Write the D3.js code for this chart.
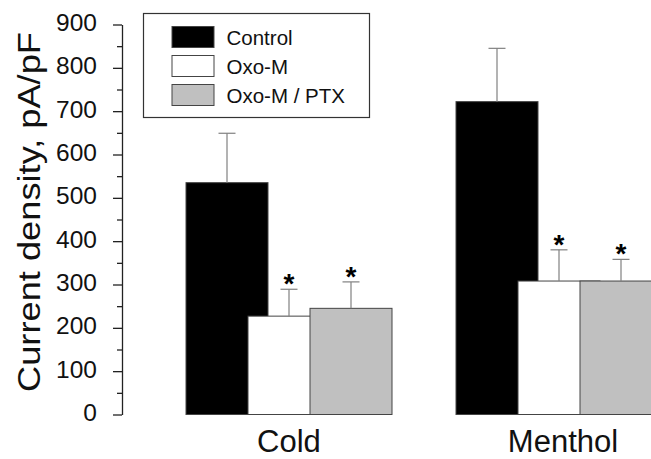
<!DOCTYPE html>
<html>
<head>
<meta charset="utf-8">
<script src="https://cdn.jsdelivr.net/npm/d3@7"></script>
<style>
  body { margin: 0; background: #fff; }
  svg { display: block; font-family: "Liberation Sans", Arial, sans-serif; }
</style>
</head>
<body>
<svg id="chart" width="651" height="459"></svg>
<script>
// data
const categories = ['Cold', 'Menthol'];
const series = ['Control', 'Oxo-M', 'Oxo-M / PTX'];
const means = [
  [535, 227, 245],   // Cold
  [722, 308, 308]    // Menthol
];
const errors = [
  [114, 62, 61],
  [123, 72, 50]
];
const significant = [
  [false, true, true],
  [false, true, true]
];
const majorTicks = [0, 100, 200, 300, 400, 500, 600, 700, 800, 900];
const minorTicks = [50, 150, 250, 350, 450, 550, 650, 750, 850];

const fills = ['#000000', '#ffffff', '#c0c0c0'];

const svg = d3.select('#chart');

const y = d3.scaleLinear().domain([0, 900]).range([414.5, 24.5]);

// group centres and series offsets (bars overlap in the original)
const x0 = d3.scalePoint().domain(categories).range([289, 559]);
const x1 = d3.scalePoint().domain(series).range([-62, 62]);
const barW = 82;

// flatten
const rows = [];
categories.forEach((c, i) => {
  series.forEach((s, j) => {
    rows.push({ cat: c, ser: s, j, value: means[i][j], err: errors[i][j], sig: significant[i][j] });
  });
});

// bars
svg.append('g')
  .selectAll('rect')
  .data(rows)
  .enter()
  .append('rect')
  .attr('x', d => x0(d.cat) + x1(d.ser) - barW / 2)
  .attr('y', d => y(d.value))
  .attr('width', barW)
  .attr('height', d => y(0) - y(d.value))
  .attr('fill', d => fills[d.j])
  .attr('stroke', '#444')
  .attr('stroke-width', 1);

// error bars
const eb = svg.append('g').attr('stroke', '#808080').attr('stroke-width', 1.2);
eb.selectAll('line.v')
  .data(rows)
  .enter()
  .append('line')
  .attr('class', 'v')
  .attr('x1', d => x0(d.cat) + x1(d.ser))
  .attr('x2', d => x0(d.cat) + x1(d.ser))
  .attr('y1', d => y(d.value))
  .attr('y2', d => y(d.value + d.err));
eb.selectAll('line.cap')
  .data(rows)
  .enter()
  .append('line')
  .attr('class', 'cap')
  .attr('x1', d => x0(d.cat) + x1(d.ser) - 8.5)
  .attr('x2', d => x0(d.cat) + x1(d.ser) + 8.5)
  .attr('y1', d => y(d.value + d.err))
  .attr('y2', d => y(d.value + d.err));

// asterisks
svg.append('g')
  .selectAll('text')
  .data(rows.filter(d => d.sig))
  .enter()
  .append('text')
  .attr('x', d => x0(d.cat) + x1(d.ser))
  .attr('y', d => y(d.value + d.err) + 4)
  .attr('text-anchor', 'middle')
  .style('font-size', '28px')
  .style('font-weight', 'bold')
  .text('*');

// y axis
const axis = svg.append('g')
  .attr('transform', 'translate(122,0)')
  .call(d3.axisLeft(y).tickValues(majorTicks).tickSize(9).tickSizeOuter(0).tickPadding(16));
axis.select('.domain').attr('stroke', '#222').attr('stroke-width', 1.3);
axis.selectAll('.tick line').attr('stroke', '#222').attr('stroke-width', 1.3);
axis.selectAll('.tick text')
  .style('font-size', '24.5px')
  .attr('fill', '#111')
  .attr('dy', '0.24em');

svg.append('g')
  .attr('transform', 'translate(122,0)')
  .call(d3.axisLeft(y).tickValues(minorTicks).tickSize(5).tickFormat(''))
  .call(g => g.select('.domain').remove())
  .call(g => g.selectAll('.tick line').attr('stroke', '#222').attr('stroke-width', 1.3));

// y title
svg.append('text')
  .attr('transform', 'translate(40,212) rotate(-90)')
  .attr('text-anchor', 'middle')
  .attr('textLength', 360)
  .attr('lengthAdjust', 'spacingAndGlyphs')
  .style('font-size', '31px')
  .attr('fill', '#111')
  .text('Current density, pA/pF');

// category labels
svg.append('g')
  .selectAll('text')
  .data(categories)
  .enter()
  .append('text')
  .attr('x', (d, i) => x0(d) + (i === 1 ? 4 : 0))
  .attr('y', 452)
  .attr('text-anchor', 'middle')
  .style('font-size', '31px')
  .attr('fill', '#111')
  .text(d => d);

// legend
const legend = svg.append('g');
legend.append('rect')
  .attr('x', 143.5).attr('y', 13.5)
  .attr('width', 226).attr('height', 104)
  .attr('fill', '#fff')
  .attr('stroke', '#333').attr('stroke-width', 1.2);
const items = legend.selectAll('g.item')
  .data(series)
  .enter()
  .append('g')
  .attr('class', 'item')
  .attr('transform', (d, i) => `translate(0,${26.5 + i * 29})`);
items.append('rect')
  .attr('x', 172).attr('y', 0)
  .attr('width', 42).attr('height', 21)
  .attr('fill', (d, i) => fills[i])
  .attr('stroke', '#444').attr('stroke-width', 1);
items.append('text')
  .attr('x', 226.5)
  .attr('y', 18)
  .style('font-size', '20.5px')
  .attr('fill', '#111')
  .text(d => d);
</script>
</body>
</html>
